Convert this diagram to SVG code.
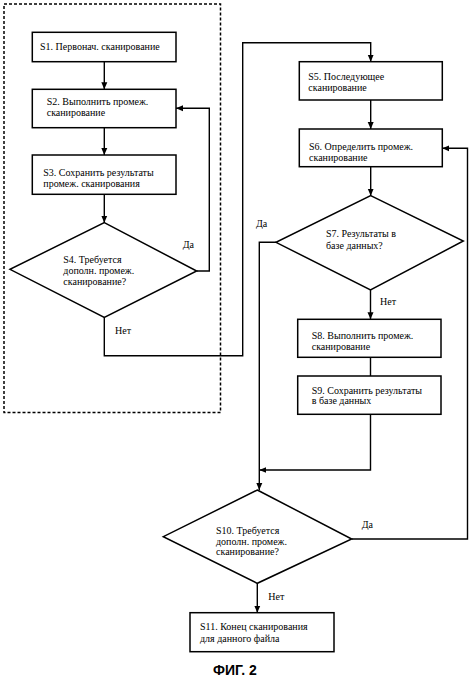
<svg xmlns="http://www.w3.org/2000/svg" width="474" height="679" viewBox="0 0 474 679">
<defs>
<marker id="ah" markerWidth="8" markerHeight="8" refX="7" refY="4" orient="auto" markerUnits="userSpaceOnUse">
<path d="M0,1 L7,4 L0,7 Z" fill="#000"/>
</marker>
<style>
.box{fill:#fff;stroke:#000;stroke-width:1.5}
.ln{fill:none;stroke:#000;stroke-width:1.4}
.t{font-family:"Liberation Serif","Times New Roman",serif;font-size:10px;fill:#000}
.dash{fill:none;stroke:#000;stroke-width:1.5;stroke-dasharray:3 2}
.fig{font-family:"Liberation Sans",Arial,sans-serif;font-size:14px;font-weight:bold;fill:#000}
</style>
</defs>
<rect width="474" height="679" fill="#fff"/>
<rect class="dash" x="4" y="4" width="216.5" height="408.5"/>
<g id="connectors">
<path class="ln" d="M104.3,61.7 V89.3" marker-end="url(#ah)"/>
<path class="ln" d="M104.3,127.7 V155" marker-end="url(#ah)"/>
<path class="ln" d="M104.3,194.3 V222.7" marker-end="url(#ah)"/>
<path class="ln" d="M196.7,271 H209.3 V108.3 H176" marker-end="url(#ah)"/>
<path class="ln" d="M104.3,317.3 V355.7 H242.7 V42.7 H370.7 V61.7" marker-end="url(#ah)"/>
<path class="ln" d="M370.7,100 V129" marker-end="url(#ah)"/>
<path class="ln" d="M370.7,166.7 V195.7" marker-end="url(#ah)"/>
<path class="ln" d="M370.5,290 V319.3" marker-end="url(#ah)"/>
<path class="ln" d="M370.5,357.3 V376"/>
<path class="ln" d="M370.5,414.3 V470 H259.3" marker-end="url(#ah)"/>
<path class="ln" d="M276,242.3 H259.3 V490" marker-end="url(#ah)"/>
<path class="ln" d="M351.7,539 H467.5 V148.3 H442.3" marker-end="url(#ah)"/>
<path class="ln" d="M257.3,583.3 V612.7" marker-end="url(#ah)"/>
</g>
<g id="S1">
<rect class="box" x="32.3" y="32.3" width="143.7" height="29.4"/>
<text class="t" x="40" y="50">S1. Первонач. сканирование</text>
</g>
<g id="S2">
<rect class="box" x="32.3" y="89.3" width="143.7" height="38.4"/>
<text class="t" x="46.7" y="104.5">S2. Выполнить промеж.</text>
<text class="t" x="46.7" y="116">сканирование</text>
</g>
<g id="S3">
<rect class="box" x="32.3" y="155" width="143.7" height="39.3"/>
<text class="t" x="43.3" y="175.5">S3. Сохранить результаты</text>
<text class="t" x="43.3" y="186.5">промеж. сканирования</text>
</g>
<g id="S4">
<polygon class="box" points="104.3,222.7 196.7,271 104.3,317.3 10,269.3"/>
<text class="t" x="63.3" y="262.5">S4. Требуется</text>
<text class="t" x="63.3" y="274">дополн. промеж.</text>
<text class="t" x="63.3" y="285">сканирование?</text>
</g>
<g id="S5">
<rect class="box" x="299.3" y="61.7" width="143" height="38.3"/>
<text class="t" x="308.3" y="79.5">S5. Последующее</text>
<text class="t" x="308.3" y="91">сканирование</text>
</g>
<g id="S6">
<rect class="box" x="299.3" y="129" width="143" height="37.7"/>
<text class="t" x="309" y="150">S6. Определить промеж.</text>
<text class="t" x="309" y="161">сканирование</text>
</g>
<g id="S7">
<polygon class="box" points="370.7,195.7 463.3,241 370.5,290 276,242.3"/>
<text class="t" x="326" y="237">S7. Результаты в</text>
<text class="t" x="326" y="248.5">базе данных?</text>
</g>
<g id="S8">
<rect class="box" x="297.7" y="319.3" width="143.3" height="38"/>
<text class="t" x="311.7" y="338.5">S8. Выполнить промеж.</text>
<text class="t" x="311.7" y="349.5">сканирование</text>
</g>
<g id="S9">
<rect class="box" x="297.7" y="376" width="143.3" height="38.3"/>
<text class="t" x="311.7" y="393.5">S9. Сохранить результаты</text>
<text class="t" x="311.7" y="404">в базе данных</text>
</g>
<g id="S10">
<polygon class="box" points="257.3,490 351.7,539 257.3,583.3 163.3,536.7"/>
<text class="t" x="216" y="534">S10. Требуется</text>
<text class="t" x="216" y="544.5">дополн. промеж.</text>
<text class="t" x="216" y="555">сканирование?</text>
</g>
<g id="S11">
<rect class="box" x="190" y="612.7" width="144" height="39"/>
<text class="t" x="200" y="630">S11. Конец сканирования</text>
<text class="t" x="200" y="641.5">для данного файла</text>
</g>
<g id="labels">
<text class="t" x="182.7" y="248">Да</text>
<text class="t" x="115" y="334">Нет</text>
<text class="t" x="256" y="227">Да</text>
<text class="t" x="380" y="304.5">Нет</text>
<text class="t" x="361.7" y="527.5">Да</text>
<text class="t" x="268.3" y="599.5">Нет</text>
<text class="fig" x="213" y="675">ФИГ. 2</text>
</g>
</svg>
